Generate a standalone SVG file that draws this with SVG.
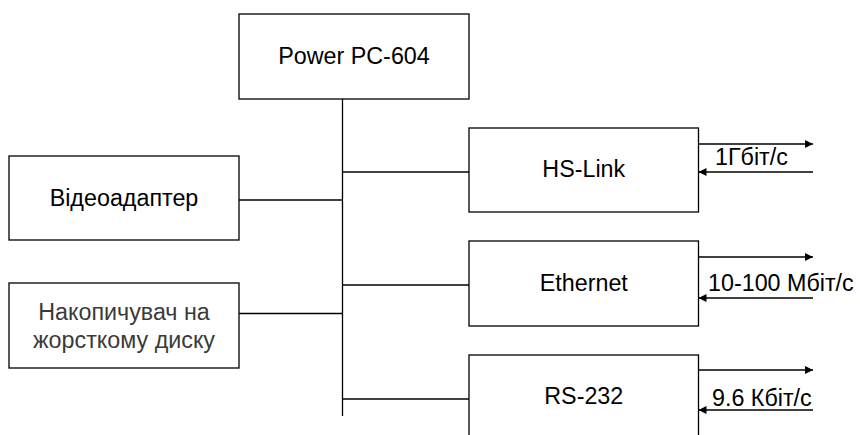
<svg xmlns="http://www.w3.org/2000/svg" width="860" height="435" viewBox="0 0 860 435">
<style>
.box{fill:#fff;stroke:#000;stroke-width:1.3}
.ln{fill:none;stroke:#000;stroke-width:1.3}
.t{font-family:"Liberation Sans",Arial,sans-serif;font-size:23.3px;fill:#000}
.c{text-anchor:middle}
.g{fill:#3a3a3a}
</style>
<defs>
<marker id="ah" viewBox="0 0 10 10" refX="10" refY="5" markerWidth="8" markerHeight="8" markerUnits="userSpaceOnUse" orient="auto">
<path d="M0,0 L10,5 L0,10 z" fill="#000"/>
</marker>
</defs>
<g id="connectors">
<line class="ln" x1="342.5" y1="99" x2="342.5" y2="416"/>
<line class="ln" x1="239" y1="200" x2="342.5" y2="200"/>
<line class="ln" x1="239" y1="313.5" x2="342.5" y2="313.5"/>
<line class="ln" x1="342.5" y1="172" x2="469" y2="172"/>
<line class="ln" x1="342.5" y1="285" x2="469" y2="285"/>
<line class="ln" x1="342.5" y1="399" x2="469" y2="399"/>
<line class="ln" x1="698.5" y1="144" x2="813" y2="144" marker-end="url(#ah)"/>
<line class="ln" x1="813" y1="172" x2="698.5" y2="172" marker-end="url(#ah)"/>
<line class="ln" x1="698.5" y1="257" x2="813" y2="257" marker-end="url(#ah)"/>
<line class="ln" x1="813" y1="298" x2="698.5" y2="298" marker-end="url(#ah)"/>
<line class="ln" x1="698.5" y1="370" x2="813" y2="370" marker-end="url(#ah)"/>
<line class="ln" x1="813" y1="410" x2="698.5" y2="410" marker-end="url(#ah)"/>
<text class="t" x="715" y="165">1Гбіт/с</text>
<text class="t" x="708" y="291">10-100 Мбіт/с</text>
<text class="t" x="712" y="406">9.6 Кбіт/с</text>
</g>
<g id="power-pc">
<rect class="box" x="239" y="14" width="230" height="85"/>
<text class="t c" x="354" y="64">Power PC-604</text>
</g>
<g id="videoadapter">
<rect class="box" x="9" y="156" width="230" height="84"/>
<text class="t c" x="124" y="206">Відеоадаптер</text>
</g>
<g id="storage">
<rect class="box" x="9" y="283" width="230" height="85"/>
<text class="t c g" x="124" y="320">Накопичувач на</text>
<text class="t c g" x="124" y="348">жорсткому диску</text>
</g>
<g id="hs-link">
<rect class="box" x="469" y="128" width="229.5" height="84"/>
<text class="t c" x="583.8" y="177">HS-Link</text>
</g>
<g id="ethernet">
<rect class="box" x="469" y="241" width="229.5" height="85"/>
<text class="t c" x="583.8" y="291">Ethernet</text>
</g>
<g id="rs-232">
<rect class="box" x="469" y="355" width="229.5" height="90"/>
<text class="t c" x="583.8" y="404">RS-232</text>
</g>
</svg>
